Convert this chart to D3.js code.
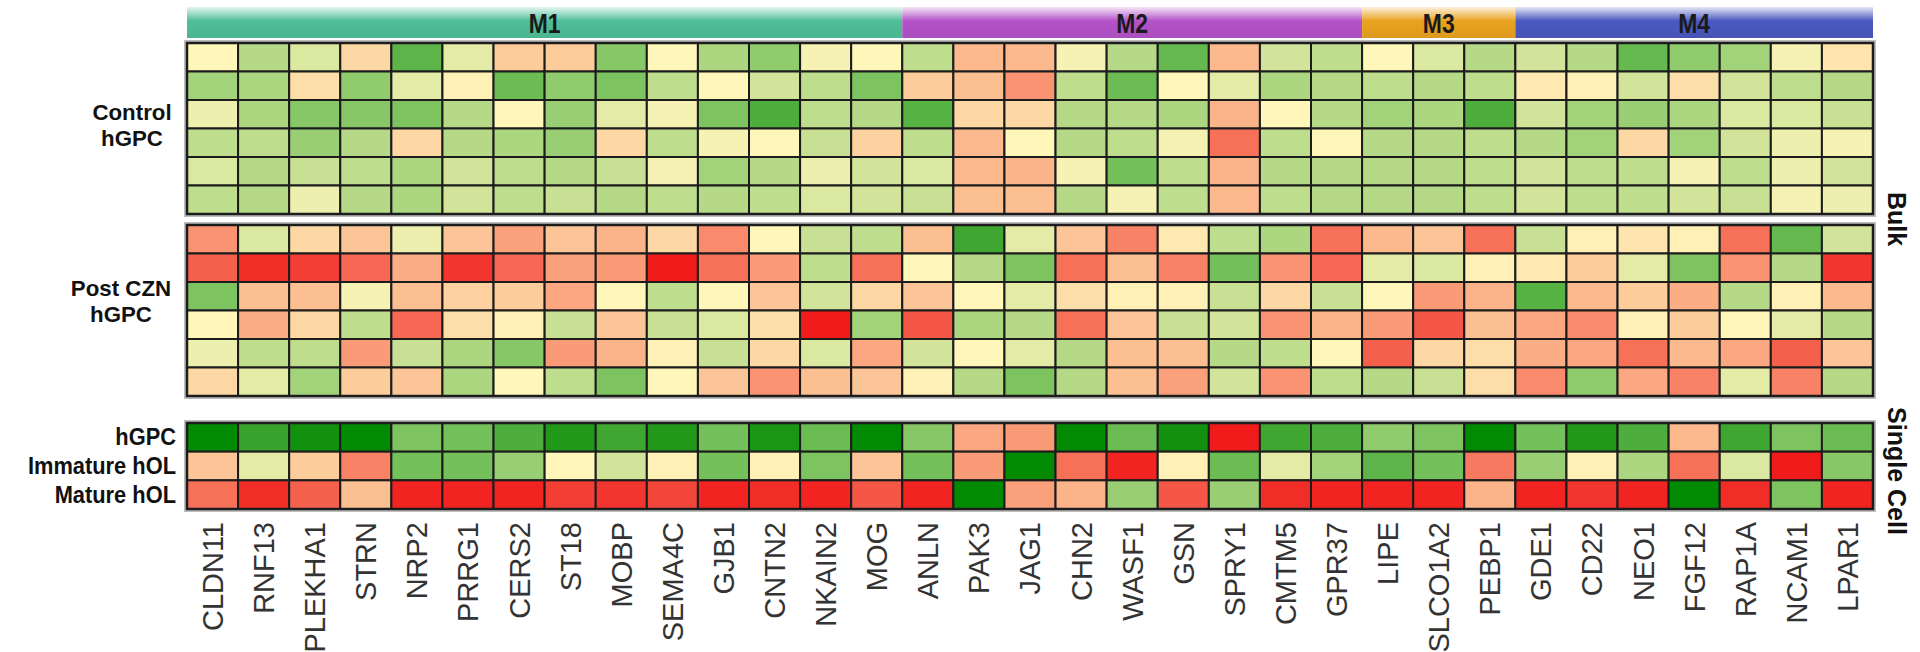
<!DOCTYPE html>
<html>
<head>
<meta charset="utf-8">
<script src="https://cdn.jsdelivr.net/npm/d3@7"></script>
<style>
  html, body { margin: 0; padding: 0; background: #fff; }
  svg { display: block; }
</style>
</head>
<body>
<svg id="chart" width="1920" height="652"></svg>
<script>
// ---------- DATA ----------
const genes = ["CLDN11","RNF13","PLEKHA1","STRN","NRP2","PRRG1","CERS2","ST18","MOBP","SEMA4C","GJB1","CNTN2","NKAIN2","MOG",
  "ANLN","PAK3","JAG1","CHN2","WASF1","GSN","SPRY1","CMTM5","GPR37",
  "LIPE","SLCO1A2","PEBP1",
  "GDE1","CD22","NEO1","FGF12","RAP1A","NCAM1","LPAR1"];

const modules = ["M1","M2","M3","M4"];
const moduleFirst = ["CLDN11","ANLN","LIPE","GDE1"];
const moduleLast  = ["MOG","GPR37","PEBP1","LPAR1"];
const moduleColors = ["#4fbf98","#b452c8","#e9a21e","#4b58bf"];

const controlLabel = ["Control","hGPC"];
const postLabel = ["Post CZN","hGPC"];
const singleLabels = ["hGPC","Immature hOL","Mature hOL"];
const sideLabels = ["Bulk","Single Cell"];

// relative expression (green = low, red = high)
const control1 = [0,-0.8,-0.4,0.5,-1.8,-0.3,0.7,0.7,-1.3,0,-0.9,-1.2,-0.1,0,-0.7,1.0,1.0,-0.1,-0.8,-1.7,1.0,-0.5,-0.7,0,-0.4,-0.8,-0.5,-0.8,-1.7,-1.2,-1.0,-0.1,0.3];
const control2 = [-1.0,-0.9,0.4,-1.2,-0.3,0.1,-1.6,-1.2,-1.4,-0.7,0,-0.5,-0.7,-1.4,0.7,0.9,1.6,-0.7,-1.6,0,-0.3,-0.9,-0.8,-0.7,-0.8,-0.7,0.2,0.1,-0.5,0.4,-0.5,-0.7,-0.8];
const control3 = [-0.2,-0.9,-1.3,-1.3,-1.4,-0.8,0,-1.1,-0.3,-0.1,-1.4,-2.0,-0.7,-0.8,-1.9,0.5,0.5,-0.8,-0.8,-0.9,1.1,0,-0.8,-1.0,-0.9,-2.0,-0.5,-1.0,-1.1,-0.9,-0.4,-0.4,-0.6];
const control4 = [-0.7,-0.7,-1.1,-0.8,0.5,-0.8,-0.9,-1.1,0.5,-0.7,-0.1,0,-0.6,0.6,-0.7,1.0,0,-0.8,-0.7,-0.1,2.0,-0.7,0,-0.8,-0.8,-0.7,-0.8,-1.0,0.5,-1.0,-0.5,-0.2,-0.1];
const control5 = [-0.4,-0.8,-0.6,-0.7,-0.9,-0.5,-0.7,-0.8,-0.6,-0.1,-1.0,-0.8,-0.2,-0.5,-0.4,1.0,1.1,-0.1,-1.5,-0.7,1.1,-0.8,-0.8,-0.8,-0.8,-0.7,-0.5,-0.7,-0.7,-0.1,-0.7,-0.2,-0.5];
const control6 = [-0.7,-0.8,-0.2,-0.8,-0.9,-0.5,-0.7,-0.6,-0.8,-0.7,-0.8,-0.7,-0.4,-0.5,-0.6,0.9,0.9,-0.8,-0.1,-0.7,1.0,-0.7,-0.8,-0.8,-0.8,-0.7,-0.5,-0.7,-0.7,-0.5,-0.6,-0.1,-0.2];

const post1 = [1.6,-0.4,0.5,0.8,-0.2,0.8,1.4,0.8,1.1,0.5,1.7,0,-0.6,-0.7,0.9,-2.2,-0.3,0.8,1.8,0.2,-0.7,-0.9,2.0,1.0,0.8,2.0,-0.6,0.1,0.3,0.1,2.0,-1.7,-0.5];
const post2 = [2.2,2.8,2.6,2.1,1.2,2.7,2.1,1.4,1.5,3.0,2.0,1.5,-0.7,2.0,0,-0.8,-1.4,2.0,0.9,1.8,-1.5,1.6,2.1,-0.3,-0.4,0.1,0.2,0.7,-0.3,-1.4,1.6,-0.8,2.7];
const post3 = [-1.4,0.9,0.9,-0.1,0.9,0.6,0.7,1.3,0,-0.7,0,0.8,-0.5,0.5,0.8,0,-0.3,0.4,0.1,0.1,-0.6,0.5,-0.6,0,1.5,1.1,-1.9,1.0,0.7,1.2,-0.8,0.1,1.0];
const post4 = [0,1.2,0.5,-0.7,2.1,0.4,0.1,-0.6,0.8,-0.6,-0.4,0.4,3.0,-1.0,2.3,-0.9,-0.8,2.0,0.8,-0.6,-0.5,1.6,1.1,1.5,2.3,0.9,1.3,1.7,0.1,0.7,0,-0.3,-0.8];
const post5 = [-0.2,-0.7,-0.7,1.5,-0.6,-0.9,-1.3,1.5,1.1,0.1,-0.6,0.5,-0.4,1.3,-0.5,0,-0.3,-0.8,0.9,0.9,-0.8,-0.7,0,2.2,0.5,0.4,1.2,1.3,2.0,1.0,1.3,2.2,0.8];
const post6 = [0.5,-0.3,-1.0,0.7,0.8,-0.9,0,-0.7,-1.4,0,0.8,1.6,0.9,0.8,0.1,-0.8,-1.4,-0.8,0.9,1.4,-0.5,1.6,-0.7,-0.8,-0.6,0.4,1.7,-1.2,1.3,1.8,-0.3,1.8,-0.8];

const scHGPC     = [-3,-2.3,-2.8,-3,-1.4,-1.5,-2.0,-2.6,-2.2,-2.6,-1.5,-2.7,-1.6,-3,-1.3,1.3,1.5,-3,-1.6,-2.8,3.0,-2.2,-2.0,-1.2,-1.4,-3,-1.5,-2.6,-2.0,1.0,-2.2,-1.4,-1.6];
const scImmature = [0.8,-0.3,0.7,1.8,-1.5,-1.5,-1.1,0,-0.5,0.1,-1.5,0.1,-1.4,0.8,-1.5,1.5,-3,2.0,2.9,0.1,-1.6,-0.3,-1.0,-1.8,-1.5,1.9,-1.1,0.1,-0.9,2.0,-0.4,3.0,-1.3];
const scMature   = [2.0,2.8,2.2,0.9,2.9,2.9,2.9,2.6,2.7,2.5,2.9,2.8,2.9,2.3,2.9,-3,1.4,1.1,-1.1,2.3,-1.1,2.8,2.9,2.9,2.9,1.1,2.9,2.7,2.9,-3,2.8,-1.4,2.9];

// ---------- LAYOUT ----------
const svg = d3.select("#chart");
const x = d3.scaleBand().domain(genes).range([187, 1873]);
const color = d3.scaleLinear()
  .domain([-3, -1.5, 0, 1.5, 3])
  .range(["#038a03", "#74c05a", "#fff6ba", "#fa9b78", "#f01c1c"])
  .clamp(true);

const blocks = [
  { rows: [control1,control2,control3,control4,control5,control6], y0: 43, y1: 214 },
  { rows: [post1,post2,post3,post4,post5,post6], y0: 225, y1: 396 },
  { rows: [scHGPC,scImmature,scMature], y0: 423, y1: 509 }
];

const defs = svg.append("defs");
moduleColors.forEach((c, i) => {
  const g = defs.append("linearGradient").attr("id", "mg" + i)
    .attr("x1", 0).attr("y1", 0).attr("x2", 0).attr("y2", 1);
  g.append("stop").attr("offset", "0%").attr("stop-color", d3.interpolateRgb(c, "#ffffff")(0.85));
  g.append("stop").attr("offset", "45%").attr("stop-color", c);
  g.append("stop").attr("offset", "100%").attr("stop-color", d3.interpolateRgb(c, "#000000")(0.05));
});

// module bar
const mods = svg.append("g");
modules.forEach((m, i) => {
  const x0 = x(moduleFirst[i]);
  const x1 = x(moduleLast[i]) + x.bandwidth();
  mods.append("rect").attr("x", x0).attr("y", 7).attr("width", x1 - x0).attr("height", 31)
    .attr("fill", `url(#mg${i})`);
  mods.append("text")
    .attr("transform", `translate(${(x0 + x1) / 2},33) scale(0.85,1)`)
    .attr("text-anchor", "middle")
    .attr("font-family", "Liberation Sans, Arial, sans-serif")
    .attr("font-weight", "bold").attr("font-size", 27).attr("fill", "#1a1a1a")
    .text(m);
});

// heatmap blocks
blocks.forEach(b => {
  const y = d3.scaleBand().domain(d3.range(b.rows.length)).range([b.y0, b.y1]);
  const g = svg.append("g");
  g.append("rect").attr("x", x.range()[0] - 2).attr("y", b.y0 - 2)
    .attr("width", x.range()[1] - x.range()[0] + 4).attr("height", b.y1 - b.y0 + 4)
    .attr("fill", "none").attr("stroke", "#bdbdbd").attr("stroke-width", 2);
  b.rows.forEach((row, ri) => {
    g.selectAll(null).data(row).join("rect")
      .attr("x", (d, ci) => x(genes[ci]))
      .attr("y", y(ri))
      .attr("width", x.bandwidth())
      .attr("height", y.bandwidth())
      .attr("fill", d => color(d))
      .attr("stroke", "#1c1c1c")
      .attr("stroke-width", 2);
  });
  g.append("rect").attr("x", x.range()[0]).attr("y", b.y0)
    .attr("width", x.range()[1] - x.range()[0]).attr("height", b.y1 - b.y0)
    .attr("fill", "none").attr("stroke", "#1c1c1c").attr("stroke-width", 2.5);
});

// gene labels (x axis)
const axis = d3.axisBottom(x).tickSize(0).tickPadding(0);
const ax = svg.append("g").attr("transform", "translate(0,522)").call(axis);
ax.select(".domain").remove();
ax.selectAll("text")
  .attr("transform", "rotate(-90)")
  .attr("x", 0).attr("y", 0).attr("dy", "0.36em")
  .attr("text-anchor", "end")
  .attr("font-family", "Liberation Sans, Arial, sans-serif")
  .attr("font-size", 29).attr("fill", "#333");

// row labels
const lab = svg.append("g")
  .attr("font-family", "Liberation Sans, Arial, sans-serif")
  .attr("font-weight", "bold").attr("font-size", 23).attr("fill", "#111");
function twoLine(lines, cx, baseY) {
  lines.forEach((t, i) => {
    lab.append("text")
      .attr("transform", `translate(${cx},${baseY + i * 26}) scale(0.97,1)`)
      .attr("text-anchor", "middle").text(t);
  });
}
twoLine(controlLabel, 132, 120);
twoLine(postLabel, 121, 296);
const ys = d3.scaleBand().domain(d3.range(singleLabels.length)).range([423, 509]);
singleLabels.forEach((t, i) => {
  lab.append("text")
    .attr("transform", `translate(176,${ys(i) + ys.bandwidth() / 2 + 8}) scale(0.95,1)`)
    .attr("text-anchor", "end").text(t);
});

// side labels
const side = svg.append("g")
  .attr("font-family", "Liberation Sans, Arial, sans-serif")
  .attr("font-weight", "bold").attr("font-size", 25).attr("fill", "#111");
side.append("text").attr("transform", "translate(1888,219) rotate(90)")
  .attr("text-anchor", "middle").text(sideLabels[0]);
side.append("text").attr("transform", "translate(1888,471) rotate(90)")
  .attr("text-anchor", "middle").text(sideLabels[1]);
</script>
</body>
</html>
